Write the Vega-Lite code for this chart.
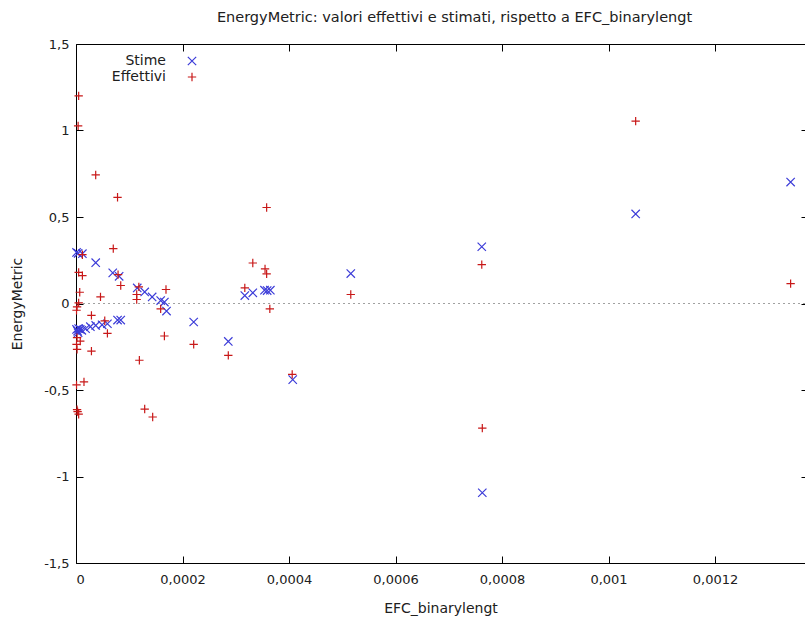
{
  "$schema": "https://vega.github.io/schema/vega-lite/v6.json",
  "width": 729,
  "height": 519,
  "autosize": {"type": "none"},
  "padding": {"left": 76, "top": 44, "right": 0, "bottom": 55},
  "background": "white",
  "title": {
    "text": "EnergyMetric: valori effettivi e stimati, rispetto a EFC_binarylengt",
    "fontSize": 14.5,
    "font": "DejaVu Sans",
    "fontWeight": "normal",
    "color": "#202020",
    "offset": 13,
    "dx": 14
  },
  "data": {
    "values": [
      {"x": 0.000001, "y": 0.295, "serie": "Stime"},
      {"x": 0.000004, "y": 0.29, "serie": "Stime"},
      {"x": 0.000012, "y": 0.288, "serie": "Stime"},
      {"x": 0.000037, "y": 0.236, "serie": "Stime"},
      {"x": 0.000069, "y": 0.177, "serie": "Stime"},
      {"x": 0.000081, "y": 0.157, "serie": "Stime"},
      {"x": 0.000115, "y": 0.09, "serie": "Stime"},
      {"x": 0.000129, "y": 0.067, "serie": "Stime"},
      {"x": 0.000143, "y": 0.038, "serie": "Stime"},
      {"x": 0.000159, "y": 0.017, "serie": "Stime"},
      {"x": 0.000166, "y": 0.008, "serie": "Stime"},
      {"x": 0.00017, "y": -0.044, "serie": "Stime"},
      {"x": 0.000221, "y": -0.107, "serie": "Stime"},
      {"x": 0.000286, "y": -0.219, "serie": "Stime"},
      {"x": 0.000317, "y": 0.046, "serie": "Stime"},
      {"x": 0.000332, "y": 0.062, "serie": "Stime"},
      {"x": 0.000354, "y": 0.077, "serie": "Stime"},
      {"x": 0.000359, "y": 0.075, "serie": "Stime"},
      {"x": 0.000365, "y": 0.077, "serie": "Stime"},
      {"x": 0.000407, "y": -0.44, "serie": "Stime"},
      {"x": 0.000516, "y": 0.173, "serie": "Stime"},
      {"x": 0.000762, "y": 0.328, "serie": "Stime"},
      {"x": 0.000763, "y": -1.094, "serie": "Stime"},
      {"x": 0.001051, "y": 0.518, "serie": "Stime"},
      {"x": 0.001342, "y": 0.702, "serie": "Stime"},
      {"x": 0.000001, "y": -0.15, "serie": "Stime"},
      {"x": 0.000003, "y": -0.16, "serie": "Stime"},
      {"x": 0.000005, "y": -0.145, "serie": "Stime"},
      {"x": 0.000008, "y": -0.15, "serie": "Stime"},
      {"x": 0.000004, "y": -0.169, "serie": "Stime"},
      {"x": 0.000011, "y": -0.155, "serie": "Stime"},
      {"x": 0.000018, "y": -0.146, "serie": "Stime"},
      {"x": 0.000027, "y": -0.134, "serie": "Stime"},
      {"x": 0.000037, "y": -0.127, "serie": "Stime"},
      {"x": 0.000049, "y": -0.123, "serie": "Stime"},
      {"x": 0.000059, "y": -0.117, "serie": "Stime"},
      {"x": 0.000078, "y": -0.096, "serie": "Stime"},
      {"x": 0.000084, "y": -0.096, "serie": "Stime"},
      {"x": 0.000005, "y": 1.2, "serie": "Effettivi"},
      {"x": 0.000004, "y": 1.027, "serie": "Effettivi"},
      {"x": 0.000037, "y": 0.743, "serie": "Effettivi"},
      {"x": 0.000078, "y": 0.614, "serie": "Effettivi"},
      {"x": 0.000358, "y": 0.555, "serie": "Effettivi"},
      {"x": 0.00007, "y": 0.317, "serie": "Effettivi"},
      {"x": 0.000012, "y": 0.282, "serie": "Effettivi"},
      {"x": 0.000005, "y": 0.18, "serie": "Effettivi"},
      {"x": 0.000012, "y": 0.161, "serie": "Effettivi"},
      {"x": 0.000079, "y": 0.167, "serie": "Effettivi"},
      {"x": 0.000084, "y": 0.104, "serie": "Effettivi"},
      {"x": 0.000007, "y": 0.065, "serie": "Effettivi"},
      {"x": 0.000005, "y": 0.004, "serie": "Effettivi"},
      {"x": 0.000002, "y": -0.019, "serie": "Effettivi"},
      {"x": 0.000001, "y": -0.039, "serie": "Effettivi"},
      {"x": 0.000046, "y": 0.038, "serie": "Effettivi"},
      {"x": 0.000029, "y": -0.069, "serie": "Effettivi"},
      {"x": 0.000002, "y": -0.197, "serie": "Effettivi"},
      {"x": 0.000008, "y": -0.217, "serie": "Effettivi"},
      {"x": 0.000001, "y": -0.236, "serie": "Effettivi"},
      {"x": 0.000002, "y": -0.265, "serie": "Effettivi"},
      {"x": 0.000029, "y": -0.275, "serie": "Effettivi"},
      {"x": 0.000054, "y": -0.1, "serie": "Effettivi"},
      {"x": 0.000059, "y": -0.173, "serie": "Effettivi"},
      {"x": 0.000119, "y": -0.328, "serie": "Effettivi"},
      {"x": 0.000118, "y": 0.096, "serie": "Effettivi"},
      {"x": 0.000114, "y": 0.052, "serie": "Effettivi"},
      {"x": 0.000114, "y": 0.023, "serie": "Effettivi"},
      {"x": 0.000169, "y": 0.081, "serie": "Effettivi"},
      {"x": 0.000159, "y": -0.031, "serie": "Effettivi"},
      {"x": 0.000166, "y": -0.188, "serie": "Effettivi"},
      {"x": 0.000221, "y": -0.236, "serie": "Effettivi"},
      {"x": 0.000286, "y": -0.3, "serie": "Effettivi"},
      {"x": 0.000332, "y": 0.234, "serie": "Effettivi"},
      {"x": 0.000355, "y": 0.2, "serie": "Effettivi"},
      {"x": 0.000358, "y": 0.171, "serie": "Effettivi"},
      {"x": 0.000317, "y": 0.09, "serie": "Effettivi"},
      {"x": 0.000364, "y": -0.031, "serie": "Effettivi"},
      {"x": 0.000406, "y": -0.41, "serie": "Effettivi"},
      {"x": 0.000516, "y": 0.052, "serie": "Effettivi"},
      {"x": 0.000762, "y": 0.225, "serie": "Effettivi"},
      {"x": 0.000763, "y": -0.72, "serie": "Effettivi"},
      {"x": 0.001051, "y": 1.054, "serie": "Effettivi"},
      {"x": 0.001342, "y": 0.115, "serie": "Effettivi"},
      {"x": 0.000001, "y": -0.47, "serie": "Effettivi"},
      {"x": 0.000015, "y": -0.453, "serie": "Effettivi"},
      {"x": 0.000002, "y": -0.614, "serie": "Effettivi"},
      {"x": 0.000005, "y": -0.64, "serie": "Effettivi"},
      {"x": 0.000003, "y": -0.625, "serie": "Effettivi"},
      {"x": 0.000129, "y": -0.61, "serie": "Effettivi"},
      {"x": 0.000144, "y": -0.656, "serie": "Effettivi"}
    ]
  },
  "layer": [
    {
      "mark": {"type": "rule", "stroke": "#a0a0a0", "strokeWidth": 1, "strokeDash": [1.5, 3.5]},
      "encoding": {
        "y": {"datum": 0, "type": "quantitative", "axis": null}
      }
    },
    {
      "mark": {"type": "point", "filled": false, "strokeWidth": 1.2, "size": 70, "opacity": 1},
      "encoding": {
        "x": {
          "field": "x", "type": "quantitative",
          "scale": {"domain": [0, 0.001369], "nice": false, "zero": false},
          "axis": {
            "orient": "bottom",
            "title": "EFC_binarylengt",
            "values": [0, 0.0002, 0.0004, 0.0006, 0.0008, 0.001, 0.0012],
            "labelExpr": "replace(toString(datum.value), '.', ',')",
            "tickSize": -7,
            "labelPadding": 17,
            "titlePadding": 15,
            "titleDx": 5
          }
        },
        "y": {
          "field": "y", "type": "quantitative",
          "scale": {"domain": [-1.5, 1.5], "nice": false, "zero": false},
          "axis": {
            "orient": "left",
            "title": "EnergyMetric",
            "values": [-1.5, -1, -0.5, 0, 0.5, 1, 1.5],
            "labelExpr": "replace(toString(datum.value), '.', ',')",
            "tickSize": -7,
            "labelPadding": 14,
            "titlePadding": 19
          }
        },
        "color": {
          "field": "serie", "type": "nominal",
          "scale": {"domain": ["Stime", "Effettivi"], "range": ["#3c3cd8", "#c81818"]},
          "legend": {
            "title": null,
            "orient": "none",
            "legendX": 109,
            "legendY": 10,
            "labelAlign": "right",
            "labelOffset": -33,
            "rowPadding": 2,
            "symbolSize": 70,
            "symbolStrokeWidth": 1.2,
            "labelFontSize": 14,
            "labelFont": "DejaVu Sans",
            "labelColor": "#202020"
          }
        },
        "shape": {
          "field": "serie", "type": "nominal",
          "scale": {"domain": ["Stime", "Effettivi"], "range": ["M-1,-1L1,1M-1,1L1,-1", "M-1,0L1,0M0,-1L0,1"]}
        }
      }
    },
    {
      "mark": {"type": "point", "opacity": 0},
      "encoding": {
        "x": {
          "field": "x", "type": "quantitative",
          "axis": {"orient": "top", "title": null, "labels": false, "values": [0, 0.0002, 0.0004, 0.0006, 0.0008, 0.001, 0.0012], "tickSize": -7}
        },
        "y": {
          "field": "y", "type": "quantitative",
          "axis": {"orient": "right", "title": null, "labels": false, "domain": false, "values": [-1.5, -1, -0.5, 0, 0.5, 1, 1.5], "tickSize": -4}
        }
      }
    }
  ],
  "resolve": {"axis": {"x": "independent", "y": "independent"}},
  "config": {
    "view": {"stroke": null},
    "axis": {
      "grid": false,
      "domainColor": "#000000",
      "domainWidth": 1,
      "tickColor": "#000000",
      "tickWidth": 1,
      "labelFont": "DejaVu Sans",
      "labelFontSize": 13,
      "labelColor": "#202020",
      "titleFont": "DejaVu Sans",
      "titleFontSize": 14,
      "titleFontWeight": "normal",
      "titleColor": "#202020"
    }
  }
}
